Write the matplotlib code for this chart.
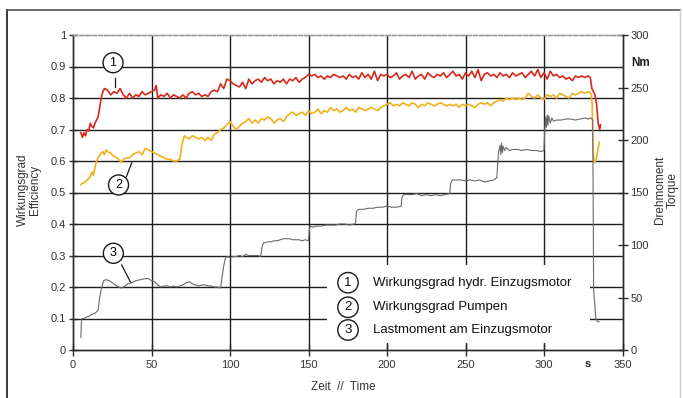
import matplotlib
matplotlib.use("Agg")
import matplotlib.pyplot as plt
from matplotlib.patches import Rectangle
from matplotlib.lines import Line2D

plt.rcParams['font.family'] = ['Liberation Sans', 'DejaVu Sans']

# ---------------- data ----------------
# (1) Wirkungsgrad hydr. Einzugsmotor (efficiency)
t_motor = [5, 6, 7, 8, 9, 10, 11, 12, 13, 14, 15, 16, 17, 18, 19, 20,
           22, 24, 26, 28, 30, 32, 34, 36, 38, 40, 42, 44, 46, 48, 50, 52, 53, 54,
           56, 58, 60, 62, 64, 66, 68, 70, 72, 74, 76, 78, 80, 82, 84, 86, 88, 90,
           92, 94, 96, 98, 100, 102, 104, 106, 108, 110, 112, 114, 116, 118, 120,
           122, 124, 126, 128, 130, 132, 134, 136, 138, 140, 142, 144, 146, 148,
           150, 152, 154, 156, 158, 160, 162, 164, 166, 168, 170, 172, 174, 176,
           178, 180, 182, 184, 186, 188, 190, 192, 194, 196, 198, 200, 202, 204,
           206, 208, 210, 212, 214, 216, 218, 220, 222, 224, 226, 228, 230, 232,
           234, 236, 238, 240, 242, 244, 246, 248, 250, 252, 254, 256, 258, 260,
           262, 264, 266, 268, 270, 272, 274, 276, 278, 280, 282, 284, 286, 288,
           290, 292, 294, 296, 298, 300, 302, 304, 306, 308, 310, 312, 314, 316,
           318, 320, 322, 324, 326, 328, 329.5, 330.5, 331.5, 332.5, 333.5, 334.5,
           335.5, 336]
eff_motor = [0.69, 0.675, 0.69, 0.68, 0.70, 0.695, 0.72, 0.71, 0.705, 0.72, 0.73, 0.74,
             0.77, 0.80, 0.82, 0.83,
             0.825, 0.81, 0.82, 0.815, 0.83, 0.81, 0.80, 0.815, 0.80, 0.81, 0.805, 0.82,
             0.81, 0.815, 0.82, 0.825, 0.84, 0.80,
             0.81, 0.805, 0.815, 0.80, 0.81, 0.805, 0.80, 0.81, 0.80, 0.815, 0.82, 0.81,
             0.815, 0.805, 0.81, 0.805, 0.82, 0.825,
             0.82, 0.845, 0.83, 0.86, 0.855, 0.845, 0.84, 0.835, 0.85, 0.83, 0.86, 0.845,
             0.855, 0.86, 0.85,
             0.865, 0.855, 0.86, 0.845, 0.855, 0.85, 0.86, 0.845, 0.86, 0.855, 0.865,
             0.85, 0.86, 0.865,
             0.875, 0.87, 0.875, 0.865, 0.87, 0.86, 0.87, 0.865, 0.875, 0.87, 0.865,
             0.87, 0.86, 0.875,
             0.865, 0.87, 0.86, 0.88, 0.865, 0.875, 0.86, 0.885, 0.855, 0.875, 0.87,
             0.875, 0.865, 0.87,
             0.88, 0.86, 0.87, 0.875, 0.865, 0.885, 0.86, 0.87, 0.875, 0.86, 0.88, 0.87,
             0.865, 0.875,
             0.87, 0.88, 0.865, 0.875, 0.885, 0.87, 0.875, 0.86, 0.88, 0.87, 0.885,
             0.865, 0.89, 0.855,
             0.875, 0.88, 0.87, 0.875, 0.865, 0.88, 0.87, 0.875, 0.865, 0.88, 0.87,
             0.875, 0.88, 0.865,
             0.875, 0.885, 0.87, 0.89, 0.865, 0.88, 0.86, 0.885, 0.87, 0.875, 0.865,
             0.87, 0.86, 0.865,
             0.855, 0.87, 0.865, 0.87, 0.865, 0.87, 0.865, 0.83, 0.82, 0.81, 0.78, 0.72,
             0.70, 0.715]

# (2) Wirkungsgrad Pumpen (efficiency)
t_pump = [5, 6, 7, 8, 9, 10, 11, 12, 13, 14, 15, 16, 17, 18, 19, 20, 21, 22,
          24, 26, 28, 30, 31, 32, 34, 36, 38, 40, 42, 44, 46, 48, 50, 52, 54, 56,
          58, 60, 62, 64, 66, 68, 69, 70, 71, 72, 74, 76, 78, 80, 82, 84, 86, 88,
          90, 92, 94, 96, 98, 100, 102, 104, 106, 108, 110, 112, 114, 116, 118,
          120, 122, 124, 126, 128, 130, 132, 134, 136, 138, 140, 142, 144, 146,
          148, 150, 152, 154, 156, 158, 160, 162, 164, 166, 168, 170, 172, 174,
          176, 178, 180, 182, 184, 186, 188, 190, 192, 194, 196, 198, 200, 202,
          204, 206, 208, 210, 212, 214, 216, 218, 220, 222, 224, 226, 228, 230,
          232, 234, 236, 238, 240, 242, 244, 246, 248, 250, 252, 254, 256, 258,
          260, 262, 264, 266, 268, 270, 272, 274, 276, 278, 280, 282, 284, 286,
          288, 290, 292, 294, 296, 298, 300, 302, 304, 306, 308, 310, 312, 314,
          316, 318, 320, 322, 324, 326, 328, 330, 330.7, 331.2, 331.7, 332.5,
          333.5, 334.5, 335.2]
eff_pump = [0.525, 0.53, 0.53, 0.535, 0.54, 0.545, 0.55, 0.565, 0.555, 0.58, 0.60, 0.61,
            0.62, 0.625, 0.63, 0.62, 0.635, 0.63,
            0.625, 0.615, 0.61, 0.60, 0.595, 0.605, 0.61, 0.61, 0.62, 0.625, 0.63, 0.62,
            0.64, 0.635, 0.63, 0.625, 0.62, 0.615,
            0.61, 0.605, 0.605, 0.60, 0.60, 0.605, 0.64, 0.665, 0.68, 0.675, 0.67, 0.68,
            0.675, 0.67, 0.675, 0.665, 0.675, 0.665,
            0.685, 0.69, 0.70, 0.705, 0.715, 0.725, 0.71, 0.70, 0.71, 0.72, 0.725, 0.735,
            0.72, 0.73, 0.72,
            0.735, 0.73, 0.74, 0.735, 0.72, 0.73, 0.735, 0.725, 0.74, 0.75, 0.755, 0.745,
            0.75, 0.755,
            0.745, 0.76, 0.75, 0.755, 0.765, 0.75, 0.76, 0.755, 0.77, 0.76, 0.765, 0.755,
            0.76, 0.77,
            0.76, 0.765, 0.755, 0.77, 0.765, 0.76, 0.765, 0.77, 0.765, 0.76, 0.77, 0.775,
            0.78, 0.785,
            0.775, 0.78, 0.775, 0.785, 0.78, 0.775, 0.785, 0.78, 0.77, 0.78, 0.775, 0.785,
            0.78, 0.775,
            0.78, 0.785, 0.78, 0.775, 0.78, 0.775, 0.78, 0.77, 0.78, 0.775, 0.78, 0.775,
            0.77, 0.78,
            0.785, 0.78, 0.785, 0.775, 0.785, 0.79, 0.795, 0.79, 0.80, 0.795, 0.80, 0.795,
            0.80, 0.795,
            0.80, 0.815, 0.805, 0.80, 0.81, 0.80, 0.795, 0.81, 0.805, 0.81, 0.80, 0.815,
            0.81, 0.805,
            0.80, 0.815, 0.81, 0.815, 0.82, 0.815, 0.82, 0.815, 0.78, 0.65, 0.60, 0.595,
            0.61, 0.64, 0.66]

# (3) Lastmoment am Einzugsmotor (torque, Nm)
t_torque = [5, 5.3, 5.6, 7, 8, 10, 12, 14, 16, 17, 18, 19.5, 21, 23, 25, 27, 29, 31, 33,
            35, 37, 40, 43, 46, 48, 50, 52, 54, 56, 58, 60, 62, 64, 66, 68, 70, 72, 74,
            76, 78, 80, 82, 84, 86, 88, 90, 92, 94, 95, 96, 97, 98, 100, 102, 104, 106,
            108, 110, 112, 114, 116, 118, 119.5, 120.5, 121.5, 124, 126, 128, 130, 132,
            134, 136, 138, 140, 142, 144, 146, 148, 150, 150.5, 151, 153, 155, 158, 161,
            164, 167, 170, 173, 176, 179, 180, 180.5, 182, 185, 188, 191, 194, 197, 200,
            203, 206, 209, 209.5, 210.5, 213, 216, 219, 222, 225, 228, 231, 234, 237,
            240, 240.5, 241.5, 244, 247, 250, 253, 256, 259, 262, 265, 268, 270, 270.5,
            271, 272, 272.5, 273, 273.5, 274, 275, 276, 278, 280, 283, 286, 289, 292,
            295, 298, 300, 300.5, 301, 301.5, 302, 302.5, 303, 304, 305, 306, 308, 311,
            314, 317, 320, 323, 326, 328, 330, 331, 331.3, 331.6, 332, 333, 334, 335]
torque = [12, 25, 30, 30, 31, 32, 34, 35, 38, 50, 58, 66, 67, 66, 64, 62, 60, 59, 61,
          63, 64, 66, 67, 68, 68, 66, 65, 62, 60, 61, 61, 60, 61, 60, 61, 62, 64, 65,
          63, 62, 61, 62, 62, 61, 61, 60, 60, 59, 70, 80, 87, 89, 88, 89, 89, 90,
          89, 91, 90, 90, 90, 90, 89, 99, 102, 103, 103, 104, 104, 105,
          106, 106, 106, 105, 105, 105, 104, 105, 104, 114, 118, 117, 118, 118, 119,
          119, 119, 120, 120, 119, 120, 121, 132, 134, 134, 135, 135, 136, 136, 137,
          136, 136, 137, 145, 148, 148, 148, 149, 147, 148, 147, 148, 147, 148,
          149, 158, 162, 162, 162, 161, 162, 161, 162, 160, 161, 162, 164, 178,
          188, 195, 186, 197, 188, 194, 190, 193, 190, 191, 191, 190, 191, 190,
          190, 189, 190, 210, 222, 212, 224, 214, 223, 216, 221, 218, 219, 219,
          220, 220, 219, 220, 221, 220, 221, 219, 150, 57, 50, 30, 27, 27]

x_ticks = [0, 50, 100, 150, 200, 250, 300, 350]
eff_ticks = [0, 0.1, 0.2, 0.3, 0.4, 0.5, 0.6, 0.7, 0.8, 0.9, 1.0]
eff_labels = ['0', '0.1', '0.2', '0.3', '0.4', '0.5', '0.6', '0.7', '0.8', '0.9', '1']
torque_ticks = [0, 50, 100, 150, 200, 250, 300]
legend_labels = ['Wirkungsgrad hydr. Einzugsmotor', 'Wirkungsgrad Pumpen',
                 'Lastmoment am Einzugsmotor']

# ---------------- figure ----------------
W, H = 683, 398
fig = plt.figure(figsize=(W / 100, H / 100), dpi=100)
fig.patch.set_facecolor('white')

ax = fig.add_axes([73 / W, 1 - 350 / H, (622.5 - 73) / W, (350 - 35) / H])
ax.set_xlim(0, 350)
ax.set_ylim(0, 1)
ax.patch.set_alpha(0)

gcol = '#1e1e1e'
# gridlines (drawn manually so the legend box can hide them but not the ticks)
for yv in eff_ticks[1:-1]:
    ax.axhline(yv, color=gcol, lw=1.0, zorder=1)
for xv in x_ticks[1:-1]:
    ax.axvline(xv, color=gcol, lw=1.0, zorder=1)

# white box behind the legend text
ax.add_patch(Rectangle((161.5, 0.022), 168, 0.248, facecolor='white',
                       edgecolor='none', zorder=1.5))

ax.plot(t_motor, eff_motor, color='#d8281c', lw=1.2, zorder=4)
ax.plot(t_pump, eff_pump, color='#f2b01e', lw=1.2, zorder=3.5)

ax2 = ax.twinx()
ax2.set_ylim(0, 300)
ax2.plot(t_torque, torque, color='#6a6a6a', lw=0.8, zorder=3)

# spines
for a in (ax, ax2):
    a.spines['top'].set_color('#9a9a9a')
    a.spines['top'].set_linestyle((0, (3, 1.5)))
    a.spines['top'].set_linewidth(1.0)
    for s in ('left', 'bottom', 'right'):
        a.spines[s].set_color('#2a2a2a')
        a.spines[s].set_linewidth(1.0)

ax.set_xticks(x_ticks)
ax.set_xticklabels([str(v) for v in x_ticks])
ax.set_yticks(eff_ticks)
ax.set_yticklabels(eff_labels)
ax2.set_yticks(torque_ticks)
ax2.set_yticklabels([str(v) for v in torque_ticks])

ax.tick_params(axis='x', direction='inout', length=9, width=1.0, color='#2a2a2a',
               labelsize=8, labelcolor='#333333', pad=3)
ax.tick_params(axis='y', direction='inout', length=6, width=1.0, color='#2a2a2a',
               labelsize=8, labelcolor='#333333', pad=2)
ax2.tick_params(axis='y', direction='inout', length=7, width=1.0, color='#2a2a2a',
                labelsize=8, labelcolor='#333333', pad=2)

# number circles in the plot
circ = dict(boxstyle='circle,pad=0.32', fc='white', ec='#1a1a1a', lw=1.0)
ax.text(25.5, 0.912, '1', ha='center', va='center', fontsize=9, bbox=circ, zorder=6)
ax.plot([27, 27], [0.862, 0.835], color='#1a1a1a', lw=0.9, zorder=6)
ax.text(29, 0.524, '2', ha='center', va='center', fontsize=9, bbox=circ, zorder=6)
ax.plot([34, 37.4], [0.55, 0.594], color='#1a1a1a', lw=0.9, zorder=6)
ax.text(25.7, 0.307, '3', ha='center', va='center', fontsize=9, bbox=circ, zorder=6)
ax.plot([31, 36.8], [0.27, 0.214], color='#1a1a1a', lw=0.9, zorder=6)

# legend text
leg_y_px = [282.7, 307.3, 330.0]
for i, (lab, ypx) in enumerate(zip(legend_labels, leg_y_px)):
    fy = 1 - ypx / H
    fig.text(348 / W, fy, str(i + 1), ha='center', va='center', fontsize=9.5,
             bbox=circ, color='#111111')
    fig.text(373 / W, fy, lab, ha='left', va='center', fontsize=9.5, color='#111111')

# axis titles and units
fig.text(343 / W, 1 - 387 / H, 'Zeit  //  Time', ha='center', va='center',
         fontsize=8.5, color='#333333')
fig.text(29 / W, 1 - 190 / H, 'Wirkungsgrad\nEfficiency', ha='center', va='center',
         rotation=90, fontsize=8.5, color='#333333', linespacing=1.1)
fig.text(666 / W, 1 - 190 / H, 'Drehmoment\nTorque', ha='center', va='center',
         rotation=90, fontsize=8.5, color='#333333', linespacing=1.1)
fig.text(641 / W, 1 - 63 / H, 'Nm', ha='center', va='center', fontsize=8.5,
         fontweight='bold', color='#222222')
fig.text(588 / W, 1 - 364 / H, 's', ha='center', va='center', fontsize=8,
         fontweight='bold', color='#222222')

# outer frame of the scanned figure
fig.add_artist(Line2D([7 / W, 7 / W], [0, 1 - 10 / H], transform=fig.transFigure,
                      color='#3a3a3a', lw=1.4))
fig.add_artist(Line2D([7 / W, 680 / W], [1 - 10 / H, 1 - 10 / H],
                      transform=fig.transFigure, color='#555555', lw=1.2))
fig.add_artist(Line2D([680 / W, 680 / W], [0, 1 - 10 / H], transform=fig.transFigure,
                      color='#cfcfcf', lw=1.0))

fig.savefig('out.png', dpi=100)
